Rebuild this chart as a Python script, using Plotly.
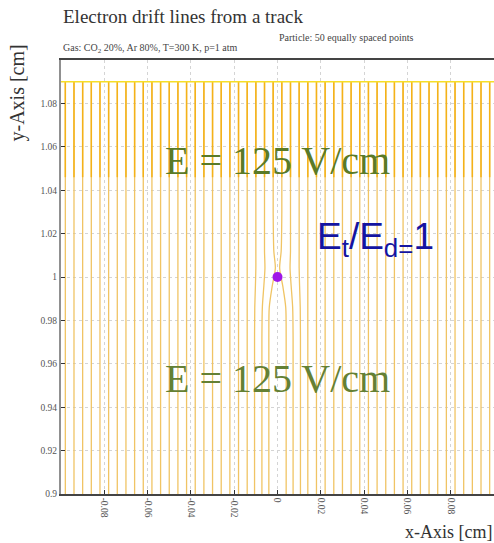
import plotly.graph_objects as go

# Start positions (cm) of the 50 equally spaced track points
x_start = [
    -0.098, -0.094, -0.090, -0.086, -0.082, -0.078, -0.074, -0.070, -0.066, -0.062,
    -0.058, -0.054, -0.050, -0.046, -0.042, -0.038, -0.034, -0.030, -0.026, -0.022,
    -0.018, -0.014, -0.010, -0.006, -0.002, 0.002, 0.006, 0.010, 0.014, 0.018,
    0.022, 0.026, 0.030, 0.034, 0.038, 0.042, 0.046, 0.050, 0.054, 0.058,
    0.062, 0.066, 0.070, 0.074, 0.078, 0.082, 0.086, 0.090, 0.094, 0.098,
]
track_y = 1.09          # height of the track (cm)
readout_y = 0.90        # drift end plane (cm)
fade_y = 1.046          # boundary between upper and lower drift region

# Heights along each drift line and lateral deflection (cm, away from x=0)
# of the lines passing close to the point at (0, 1)
y_knots = [1.09, 1.03, 1.012, 1.004, 0.996, 0.986, 0.972, 0.90]
deflection = {
    0.002: [0, 0, -0.0003, -0.0010, 0.0004, 0.0018, 0.0020, 0.0020],
    0.006: [0, 0, 0, -0.0002, 0.0003, 0.0010, 0.0012, 0.0012],
    0.010: [0, 0, 0, 0, 0.0002, 0.0005, 0.0006, 0.0006],
}

point_x = [0.0]
point_y = [1.0]

x_ticks = [-0.08, -0.06, -0.04, -0.02, 0, 0.02, 0.04, 0.06, 0.08]
x_ticklabels = ["-0.08", "-0.06", "-0.04", "-0.02", "0", "0.02", "0.04", "0.06", "0.08"]
y_ticks = [0.9, 0.92, 0.94, 0.96, 0.98, 1.0, 1.02, 1.04, 1.06, 1.08]
y_ticklabels = ["0.9", "0.92", "0.94", "0.96", "0.98", "1", "1.02", "1.04", "1.06", "1.08"]

upper_color = "rgb(244,178,24)"
lower_color = "rgb(240,196,100)"
track_color = "rgb(246,222,40)"

fig = go.Figure()

for x0 in x_start:
    key = round(abs(x0), 3)
    offs = deflection.get(key, [0] * len(y_knots))
    sgn = 1 if x0 > 0 else -1
    xs = [x0 + sgn * d for d in offs]
    # lower part of the drift line
    fig.add_trace(go.Scatter(
        x=xs, y=y_knots, mode="lines",
        line=dict(color=lower_color, width=1.3, shape="spline", smoothing=0.8),
        hoverinfo="skip", showlegend=False,
    ))
    # upper part
    fig.add_trace(go.Scatter(
        x=[x0, x0], y=[track_y, fade_y], mode="lines",
        line=dict(color=upper_color, width=1.5),
        hoverinfo="skip", showlegend=False,
    ))

# the track itself
fig.add_trace(go.Scatter(
    x=[-0.1, 0.1], y=[track_y, track_y], mode="lines",
    line=dict(color=track_color, width=1.5),
    hoverinfo="skip", showlegend=False,
))

fig.add_trace(go.Scatter(
    x=point_x, y=point_y, mode="markers",
    marker=dict(color="rgb(158,22,232)", size=10, line=dict(width=0)),
    hoverinfo="skip", showlegend=False,
))

serif = "Liberation Serif, Times New Roman, serif"

fig.update_layout(
    width=494, height=543,
    margin=dict(l=61, r=0, t=60, b=49),
    paper_bgcolor="white", plot_bgcolor="white",
    showlegend=False,
    xaxis=dict(
        range=[-0.1, 0.1], tickvals=x_ticks, ticktext=x_ticklabels,
        tickangle=90, ticks="inside", ticklen=4, tickcolor="#333",
        tickfont=dict(family=serif, size=9.5, color="#555"),
        showgrid=True, gridcolor="#d4d4d4", griddash="dot", gridwidth=1,
        showline=True, linecolor="#444", linewidth=1.5, mirror=True,
        zeroline=False,
    ),
    yaxis=dict(
        range=[0.9, 1.1], tickvals=y_ticks, ticktext=y_ticklabels,
        ticks="inside", ticklen=4, tickcolor="#333",
        tickfont=dict(family=serif, size=9.5, color="#555"),
        showgrid=True, gridcolor="#d4d4d4", griddash="dot", gridwidth=1,
        showline=True, linecolor="#909090", linewidth=2,
        zeroline=False,
    ),
)

annotations = [
    dict(text="Electron drift lines from a track", xref="paper", yref="paper",
         x=0.0, y=1.0, yshift=31, xanchor="left", yanchor="bottom", showarrow=False,
         font=dict(family=serif, size=19, color="#333")),
    dict(text="Gas: CO<sub>2</sub> 20%, Ar 80%, T=300 K, p=1 atm", xref="paper", yref="paper",
         x=0.0, y=1.0, yshift=3, xanchor="left", yanchor="bottom", showarrow=False,
         font=dict(family=serif, size=10, color="#444")),
    dict(text="Particle: 50 equally spaced points", xref="paper", yref="paper",
         x=0.499, y=1.0, yshift=15, xanchor="left", yanchor="bottom", showarrow=False,
         font=dict(family=serif, size=10, color="#444")),
    dict(text="y-Axis [cm]", xref="paper", yref="paper",
         x=0.0, y=0.924, xshift=-30, xanchor="right", yanchor="middle",
         textangle=-90, showarrow=False,
         font=dict(family=serif, size=20, color="#333")),
    dict(text="x-Axis [cm]", xref="paper", yref="paper",
         x=1.0, y=0.0, xshift=0, yshift=-50, xanchor="right", yanchor="bottom", showarrow=False,
         font=dict(family=serif, size=18, color="#333")),
    dict(text="E = 125 V/cm", x=0.0, y=1.0535, xref="x", yref="y",
         xanchor="center", yanchor="middle", showarrow=False,
         font=dict(family=serif, size=40, color="rgb(90,122,40)")),
    dict(text="E = 125 V/cm", x=0.0, y=0.953, xref="x", yref="y",
         xanchor="center", yanchor="middle", showarrow=False,
         font=dict(family=serif, size=40, color="rgb(100,128,52)")),
    dict(text="E<sub>t</sub>/E<sub>d=</sub>1", x=0.0452, y=1.0175, xref="x", yref="y",
         xanchor="center", yanchor="middle", showarrow=False,
         font=dict(family="Liberation Sans, Arial, sans-serif", size=37, color="rgb(20,20,160)")),
]
fig.update_layout(annotations=annotations)

fig.write_html("out.html")
